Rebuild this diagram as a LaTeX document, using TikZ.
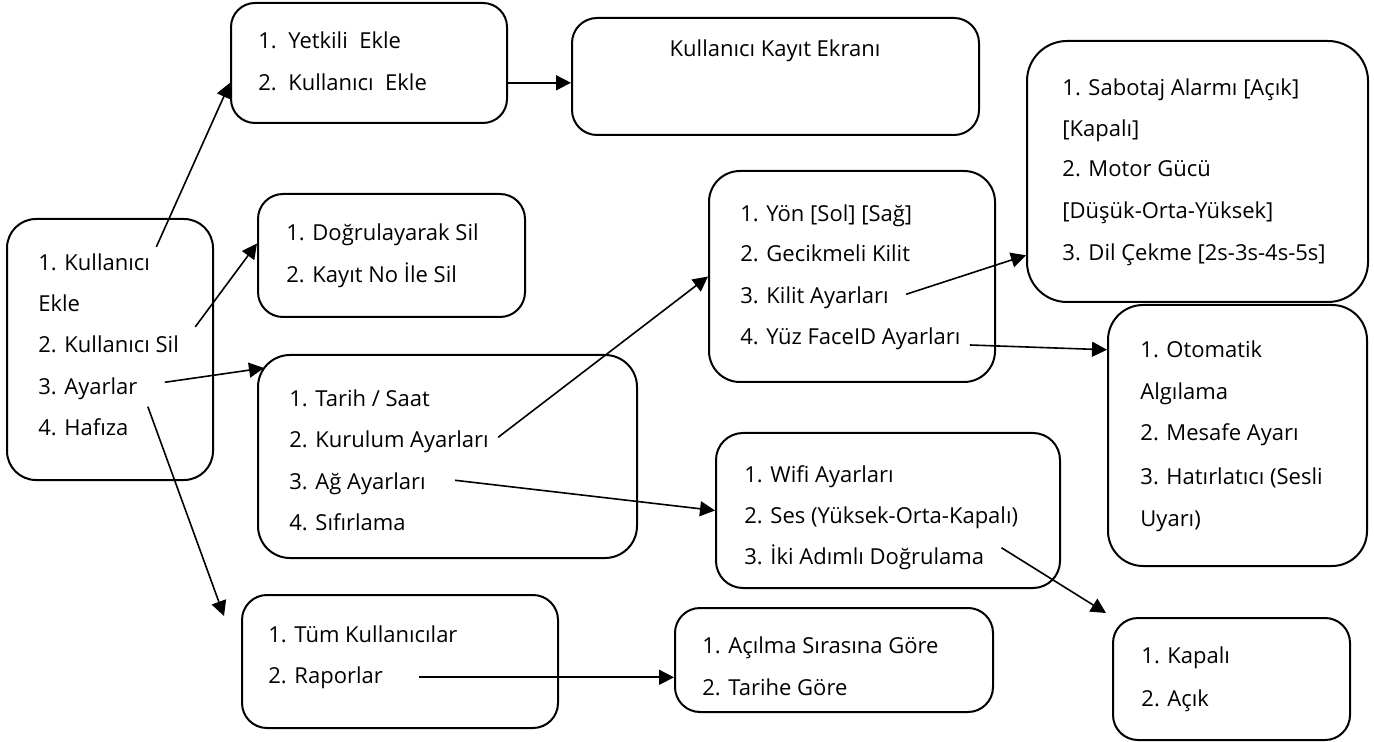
\documentclass[tikz,border=0pt]{standalone}
\usepackage{fontspec}
\setmainfont{Open Sans}
\usepackage{tikz}
\usetikzlibrary{arrows.meta, fit}

\begin{document}
\begin{tikzpicture}[
  x=0.5pt, y=-0.5pt,
  every node/.style={font=\fontsize{11}{13}\selectfont},
  menu/.style={draw, line width=1pt, rounded corners=#1, inner sep=0pt},
  menu/.default=12.5pt,
  item/.style={anchor=base west, inner sep=0pt},
  arrow/.style={-{Triangle[length=7.5pt, width=7.5pt]}, line width=0.8pt}
]
\useasboundingbox (0,0) rectangle (1374,742);

% Nodes
\node[menu=14.5pt, fit={(7,219) (213,480)}] (ana) {};
\node[item] (ana1) at (38,271) {1. Kullanıcı};
\node[item] (ana2) at (38,312) {Ekle};
\node[item] (ana3) at (38,353) {2. Kullanıcı Sil};
\node[item] (ana4) at (38,395) {3. Ayarlar};
\node[item] (ana5) at (38,436) {4. Hafıza};

\node[menu=12pt, fit={(231,3) (507,123)}] (yetkili) {};
\node[item] (yetkili1) at (258,49) {1.\ \ Yetkili\ \ Ekle};
\node[item] (yetkili2) at (258,91) {2.\ \ Kullanıcı\ \ Ekle};

\node[menu, fit={(572,18) (979,135)}] (kayit) {};
\node[item, anchor=base] (kayit1) at (775,57) {Kullanıcı Kayıt Ekranı};

\node[menu, fit={(258,194) (525,317)}] (dogrula) {};
\node[item] (dogrula1) at (286,241) {1. Doğrulayarak Sil};
\node[item] (dogrula2) at (286,283) {2. Kayıt No İle Sil};

\node[menu=16pt, fit={(258,355) (637,558)}] (tarih) {};
\node[item] (tarih1) at (289,407) {1. Tarih / Saat};
\node[item] (tarih2) at (289,447) {2. Kurulum Ayarları};
\node[item] (tarih3) at (289,489) {3. Ağ Ayarları};
\node[item] (tarih4) at (289,530) {4. Sıfırlama};

\node[menu, fit={(242,595) (558,728)}] (tum) {};
\node[item] (tum1) at (268,642) {1. Tüm Kullanıcılar};
\node[item] (tum2) at (268,683) {2. Raporlar};

\node[menu, fit={(675,608) (993,712)}] (acilma) {};
\node[item] (acilma1) at (702,653) {1. Açılma Sırasına Göre};
\node[item] (acilma2) at (702,695) {2. Tarihe Göre};

\node[menu=15.5pt, fit={(709,171) (995,382)}] (yon) {};
\node[item] (yon1) at (740,222) {1. Yön [Sol] [Sağ]};
\node[item] (yon2) at (740,262) {2. Gecikmeli Kilit};
\node[item] (yon3) at (740,304) {3. Kilit Ayarları};
\node[item] (yon4) at (740,345) {4. Yüz FaceID Ayarları};

\node[menu=20pt, fit={(1027,41) (1368,302)}] (sabotaj) {};
\node[item] (sabotaj1) at (1062,96) {1. Sabotaj Alarmı [Açık]};
\node[item] (sabotaj2) at (1062,137) {[Kapalı]};
\node[item] (sabotaj3) at (1062,177) {2. Motor Gücü};
\node[item] (sabotaj4) at (1062,219) {[Düşük-Orta-Yüksek]};
\node[item] (sabotaj5) at (1062,261) {3. Dil Çekme [2s-3s-4s-5s]};

\node[menu=17.5pt, fit={(1108,305) (1367,566)}] (otomatik) {};
\node[item] (otomatik1) at (1140,358) {1. Otomatik};
\node[item] (otomatik2) at (1140,400) {Algılama};
\node[item] (otomatik3) at (1140,441) {2. Mesafe Ayarı};
\node[item] (otomatik4) at (1140,484) {3. Hatırlatıcı (Sesli};
\node[item] (otomatik5) at (1140,526) {Uyarı)};

\node[menu=13.5pt, fit={(716,433) (1060,588)}] (wifi) {};
\node[item] (wifi1) at (744,482) {1. Wifi Ayarları};
\node[item] (wifi2) at (744,523) {2. Ses (Yüksek-Orta-Kapalı)};
\node[item] (wifi3) at (744,564) {3. İki Adımlı Doğrulama};

\node[menu, fit={(1113,618) (1350,740)}] (kapali) {};
\node[item] (kapali1) at (1141,663) {1. Kapalı};
\node[item] (kapali2) at (1141,706) {2. Açık};

% Arrows
\draw[arrow] ([shift={(6,-7)}]ana1.north east) -- (yetkili.west |- yetkili2);
\draw[arrow] (yetkili.east |- yetkili2) -- (kayit.west |- yetkili2);
\draw[arrow] ([shift={(16,-9)}]ana3.north east) -- ([shift={(0,-12)}]dogrula.west);
\draw[arrow] ([shift={(27,-7)}]ana4.east) -- ([shift={(7,14)}]tarih.north west);
\draw[arrow] ([shift={(10,6)}]ana4.south east) -- ([shift={(-17,22)}]tum.north west);

\draw[arrow] ([shift={(9,-4)}]tarih2.east) -- (yon.west);
\draw[arrow] ([shift={(29,-3)}]tarih3.east) -- (wifi.west);
\draw[arrow] ([shift={(36,0)}]tum2.east) -- (acilma.west |- tum2.east);

\draw[arrow] ([shift={(17,-4)}]yon3.east) -- (sabotaj.west |- sabotaj5);
\draw[arrow] ([shift={(9,0)}]yon4.base east) -- (otomatik.west |- otomatik1);
\draw[arrow] ([shift={(17,-9)}]wifi3.east) -- ([shift={(-6,-4)}]kapali.north west);

\end{tikzpicture}
\end{document}
